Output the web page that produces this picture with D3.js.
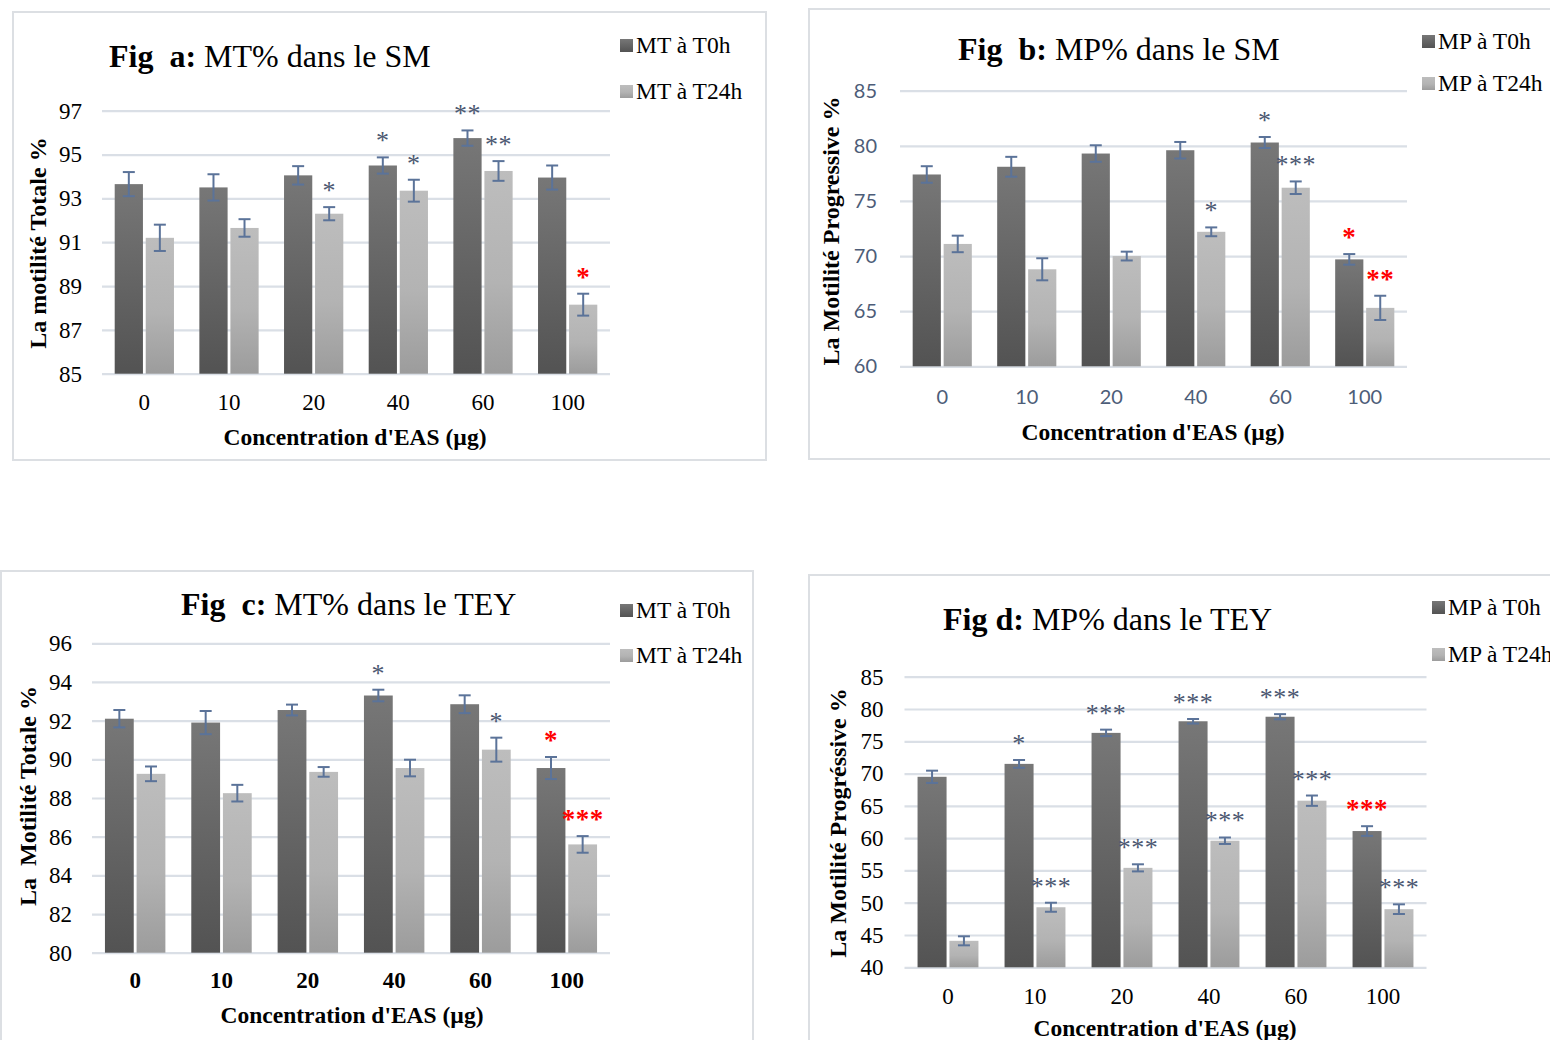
<!DOCTYPE html>
<html><head><meta charset="utf-8">
<script src="https://cdn.jsdelivr.net/npm/d3@7"></script>
<style>body{margin:0;background:#fff;overflow:hidden} text{white-space:pre}</style>
</head><body><svg id="c" width="1550" height="1040"></svg>
<script>
const categories = ["0","10","20","40","60","100"];

// Fig a : MT% dans le SM
const mtSM_T0      = [93.65, 93.5, 94.05, 94.5, 95.75, 93.95];
const mtSM_T0_err  = [0.55, 0.6, 0.42, 0.37, 0.35, 0.55];
const mtSM_T24     = [91.2, 91.65, 92.3, 93.35, 94.25, 88.15];
const mtSM_T24_err = [0.6, 0.4, 0.3, 0.5, 0.45, 0.5];
const sigA_T0  = ["", "", "", "*", "**", ""];
const sigA_T24 = ["", "", "*", "*", "**", "*"];
const redA_T0  = [0,0,0,0,0,0];
const redA_T24 = [0,0,0,0,0,1];
const ticksA = [85, 87, 89, 91, 93, 95, 97];

// Fig b : MP% dans le SM
const mpSM_T0      = [77.4, 78.1, 79.3, 79.6, 80.3, 69.7];
const mpSM_T0_err  = [0.75, 0.9, 0.75, 0.75, 0.5, 0.48];
const mpSM_T24     = [71.1, 68.8, 70.0, 72.2, 76.2, 65.3];
const mpSM_T24_err = [0.75, 1.0, 0.4, 0.4, 0.57, 1.1];
const sigB_T0  = ["", "", "", "", "*", "*"];
const sigB_T24 = ["", "", "", "*", "***", "**"];
const redB_T0  = [0,0,0,0,0,1];
const redB_T24 = [0,0,0,0,0,1];
const ticksB = [60, 65, 70, 75, 80, 85];

// Fig c : MT% dans le TEY
const mtTEY_T0      = [92.1, 91.9, 92.55, 93.3, 92.85, 89.55];
const mtTEY_T0_err  = [0.45, 0.6, 0.28, 0.3, 0.46, 0.57];
const mtTEY_T24     = [89.25, 88.25, 89.35, 89.55, 90.5, 85.6];
const mtTEY_T24_err = [0.38, 0.43, 0.25, 0.43, 0.62, 0.43];
const sigC_T0  = ["", "", "", "*", "", "*"];
const sigC_T24 = ["", "", "", "", "*", "***"];
const redC_T0  = [0,0,0,0,0,1];
const redC_T24 = [0,0,0,0,0,1];
const ticksC = [80, 82, 84, 86, 88, 90, 92, 94, 96];

// Fig d : MP% dans le TEY
const mpTEY_T0      = [69.5, 71.5, 76.3, 78.1, 78.8, 61.1];
const mpTEY_T0_err  = [0.95, 0.6, 0.5, 0.35, 0.4, 0.75];
const mpTEY_T24     = [44.1, 49.3, 55.4, 59.6, 65.8, 49.0];
const mpTEY_T24_err = [0.7, 0.7, 0.55, 0.5, 0.8, 0.75];
const sigD_T0  = ["", "*", "***", "***", "***", "***"];
const sigD_T24 = ["", "***", "***", "***", "***", "***"];
const redD_T0  = [0,0,0,0,0,1];
const redD_T24 = [0,0,0,0,0,0];
const ticksD = [40, 45, 50, 55, 60, 65, 70, 75, 80, 85];

const svg = d3.select("#c");
const SERIF = "'Liberation Serif','Times New Roman',serif";
const SANS = "Lato,'Liberation Sans',sans-serif";

const defs = svg.append("defs");
const gDark = defs.append("linearGradient").attr("id","gDark").attr("x1",0).attr("y1",0).attr("x2",0).attr("y2",1);
gDark.append("stop").attr("offset","0%").attr("stop-color","#777777");
gDark.append("stop").attr("offset","100%").attr("stop-color","#535353");
const gLight = defs.append("linearGradient").attr("id","gLight").attr("x1",0).attr("y1",0).attr("x2",0).attr("y2",1);
gLight.append("stop").attr("offset","0%").attr("stop-color","#bdbdbd");
gLight.append("stop").attr("offset","55%").attr("stop-color","#b3b3b3");
gLight.append("stop").attr("offset","100%").attr("stop-color","#9c9c9c");

function panel(cfg) {
  const g = svg.append("g");
  g.append("rect").attr("x", cfg.frame[0]).attr("y", cfg.frame[1]).attr("width", cfg.frame[2]).attr("height", cfg.frame[3])
    .attr("fill","none").attr("stroke","#dcdfe3").attr("stroke-width",2);

  const x0 = d3.scaleBand().domain(categories).range([cfg.x1, cfg.x2]).paddingInner(0.3).paddingOuter(0.15);
  const x1 = d3.scaleBand().domain(["T0","T24"]).range([0, x0.bandwidth()]).paddingInner(0.09);
  const y = d3.scaleLinear().domain([cfg.ticks[0], cfg.ticks[cfg.ticks.length-1]]).range([cfg.yB, cfg.yT]);

  const ya = g.append("g").attr("transform", `translate(${cfg.x1},0)`)
    .call(d3.axisLeft(y).tickValues(cfg.ticks).tickSize(-(cfg.x2 - cfg.x1)).tickPadding(cfg.yPad).tickFormat(d3.format("d")));
  ya.select(".domain").remove();
  ya.selectAll(".tick line").attr("stroke","#dadfe6").attr("stroke-width",2.2);
  ya.attr("font-family", cfg.tickFont).attr("font-size", cfg.tickSize);
  ya.selectAll(".tick text").attr("fill", cfg.tickColor);

  const xa = g.append("g").attr("transform", `translate(0,${cfg.yB})`)
    .call(d3.axisBottom(x0).tickSize(0).tickPadding(cfg.xPad));
  xa.select(".domain").remove();
  xa.attr("font-family", cfg.tickFont).attr("font-size", cfg.tickSize).attr("font-weight", cfg.xBold ? "bold" : "normal");
  xa.selectAll(".tick text").attr("fill", cfg.tickColor);

  const series = [
    {key:"T0", vals:cfg.s0, errs:cfg.e0, sig:cfg.sig0, red:cfg.red0, fill:"url(#gDark)"},
    {key:"T24", vals:cfg.s1, errs:cfg.e1, sig:cfg.sig1, red:cfg.red1, fill:"url(#gLight)"}
  ];
  series.forEach(s => {
    const sg = g.append("g");
    const data = categories.map((c,i) => ({c, v:s.vals[i], e:s.errs[i], sig:s.sig[i], red:s.red[i]}));
    sg.selectAll("rect").data(data).join("rect")
      .attr("x", d => x0(d.c) + x1(s.key)).attr("width", x1.bandwidth())
      .attr("y", d => y(d.v)).attr("height", d => cfg.yB - y(d.v))
      .attr("fill", s.fill);
    const cx = d => x0(d.c) + x1(s.key) + x1.bandwidth()/2;
    const eb = sg.selectAll("g.eb").data(data).join("g").attr("class","eb")
      .attr("stroke","#5b7399").attr("stroke-width",2);
    eb.append("line").attr("x1",cx).attr("x2",cx).attr("y1",d=>y(d.v+d.e)).attr("y2",d=>y(d.v-d.e));
    eb.append("line").attr("x1",d=>cx(d)-6).attr("x2",d=>cx(d)+6).attr("y1",d=>y(d.v+d.e)).attr("y2",d=>y(d.v+d.e));
    eb.append("line").attr("x1",d=>cx(d)-6).attr("x2",d=>cx(d)+6).attr("y1",d=>y(d.v-d.e)).attr("y2",d=>y(d.v-d.e));
    sg.selectAll("text.sig").data(data.filter(d => d.sig)).join("text").attr("class","sig")
      .attr("x", cx).attr("y", d => y(d.v + d.e) - 8)
      .attr("text-anchor","middle").attr("font-family", SERIF)
      .attr("font-size", d => d.red ? 27 : 26).attr("font-weight", d => d.red ? "bold" : "normal")
      .attr("letter-spacing", 0.5)
      .attr("fill", d => d.red ? "#ff0000" : "#4a5670").text(d => d.sig);
  });

  // title
  const t = g.append("text").attr("x", cfg.title.x).attr("y", cfg.title.y)
    .attr("font-family", SERIF).attr("font-size", 32).attr("fill","#000");
  t.append("tspan").attr("font-weight","bold").text(cfg.title.b);
  t.append("tspan").text(cfg.title.n);

  // axis titles
  g.append("text").attr("x", cfg.xt[0]).attr("y", cfg.xt[1]).attr("text-anchor","middle")
    .attr("font-family", SERIF).attr("font-weight","bold").attr("font-size", 23.5).text("Concentration d'EAS (µg)");
  g.append("text").attr("transform", `translate(${cfg.yt[0]},${cfg.yt[1]}) rotate(-90)`).attr("text-anchor","middle")
    .attr("font-family", SERIF).attr("font-weight","bold").attr("font-size", 24).text(cfg.yt[2]);

  // legend
  cfg.legend.items.forEach((lab, i) => {
    const ly = cfg.legend.y[i];
    g.append("rect").attr("x", cfg.legend.x).attr("y", ly - 14).attr("width", 13).attr("height", 13)
      .attr("fill", i === 0 ? "url(#gDark)" : "url(#gLight)");
    g.append("text").attr("x", cfg.legend.x + 16).attr("y", ly).attr("font-family", SERIF).attr("font-size", 23.5)
      .attr("fill","#000").text(lab);
  });
}

panel({
  frame:[13,12,753,448], x1:102, x2:610, yT:110.7, yB:373.7, ticks:ticksA,
  s0:mtSM_T0, e0:mtSM_T0_err, s1:mtSM_T24, e1:mtSM_T24_err, sig0:sigA_T0, sig1:sigA_T24, red0:redA_T0, red1:redA_T24,
  tickFont:SERIF, tickSize:23, tickColor:"#000", xBold:false, yPad:20, xPad:20,
  title:{x:109, y:67, b:"Fig  a:", n:" MT% dans le SM"},
  xt:[355, 445], yt:[46, 243, "La motilité Totale %"],
  legend:{x:620, y:[53, 99], items:["MT à T0h","MT à T24h"]}
});
panel({
  frame:[809,9,800,450], x1:900, x2:1407, yT:90.7, yB:366.3, ticks:ticksB,
  s0:mpSM_T0, e0:mpSM_T0_err, s1:mpSM_T24, e1:mpSM_T24_err, sig0:sigB_T0, sig1:sigB_T24, red0:redB_T0, red1:redB_T24,
  tickFont:SANS, tickSize:20, tickColor:"#4d5d78", xBold:false, yPad:23, xPad:24,
  title:{x:958, y:60, b:"Fig  b:", n:" MP% dans le SM"},
  xt:[1153, 440], yt:[839, 231, "La Motilité Progressive %"],
  legend:{x:1422, y:[49, 91], items:["MP à T0h","MP à T24h"]}
});
panel({
  frame:[1,571,752,520], x1:92, x2:610, yT:643.3, yB:952.7, ticks:ticksC,
  s0:mtTEY_T0, e0:mtTEY_T0_err, s1:mtTEY_T24, e1:mtTEY_T24_err, sig0:sigC_T0, sig1:sigC_T24, red0:redC_T0, red1:redC_T24,
  tickFont:SERIF, tickSize:23, tickColor:"#000", xBold:true, yPad:20, xPad:19,
  title:{x:181, y:615, b:"Fig  c:", n:" MT% dans le TEY"},
  xt:[352, 1023], yt:[36, 796, "La  Motilité Totale %"],
  legend:{x:620, y:[618, 663], items:["MT à T0h","MT à T24h"]}
});
panel({
  frame:[809,575,800,520], x1:904.5, x2:1426.5, yT:676.7, yB:967.3, ticks:ticksD,
  s0:mpTEY_T0, e0:mpTEY_T0_err, s1:mpTEY_T24, e1:mpTEY_T24_err, sig0:sigD_T0, sig1:sigD_T24, red0:redD_T0, red1:redD_T24,
  tickFont:SERIF, tickSize:23, tickColor:"#000", xBold:false, yPad:21, xPad:20,
  title:{x:943, y:630, b:"Fig d:", n:" MP% dans le TEY"},
  xt:[1165, 1036], yt:[846, 823, "La Motilité Progréssive %"],
  legend:{x:1432, y:[615, 662], items:["MP à T0h","MP à T24h"]}
});
</script></body></html>
